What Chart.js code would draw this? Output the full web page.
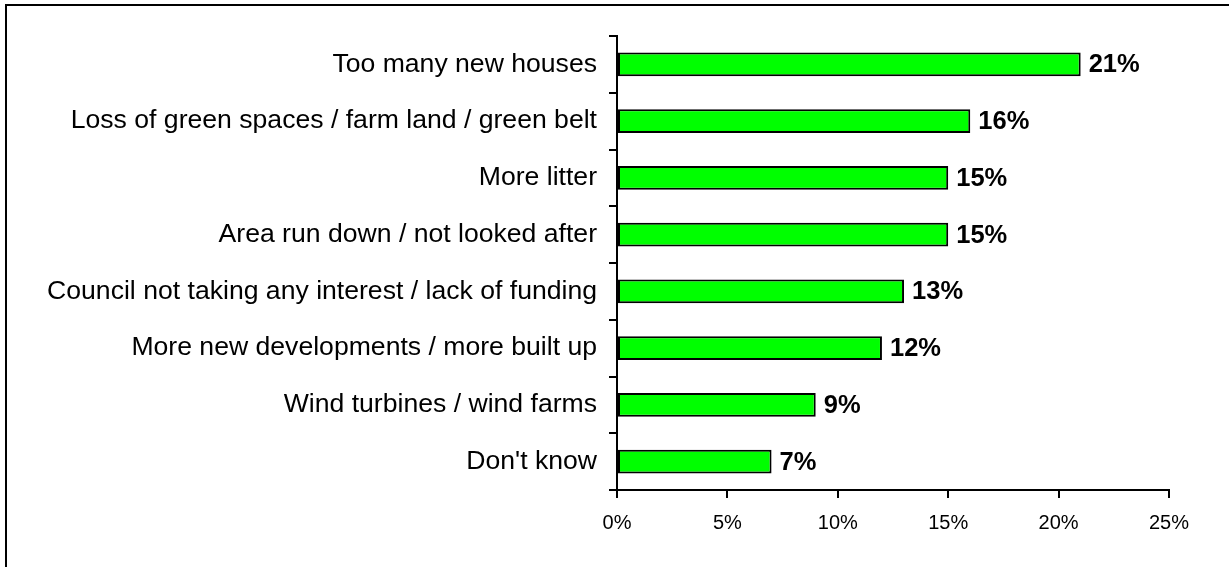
<!DOCTYPE html>
<html lang="en">
<head>
    <meta charset="UTF-8">
    <title>Concerns about the local area</title>
    <script src="https://cdn.jsdelivr.net/npm/chart.js"></script>
    <style>
        * {
            margin: 0;
            padding: 0;
            box-sizing: border-box;
        }

        body {
            background: #fff;
            width: 1229px;
            height: 567px;
            overflow: hidden;
            position: relative;
        }

        .frame {
            position: absolute;
            left: 5px;
            top: 4px;
            width: 1300px;
            height: 700px;
            border-left: 2px solid #000;
            border-top: 2px solid #000;
        }

        .chart-container {
            position: absolute;
            left: 0;
            top: 0;
            width: 1229px;
            height: 567px;
        }
    </style>
</head>
<body>
    <div class="frame"></div>
    <div class="chart-container">
        <canvas id="concernsChart"></canvas>
    </div>

    <script>
        const categories = [
            'Too many new houses',
            'Loss of green spaces / farm land / green belt',
            'More litter',
            'Area run down / not looked after',
            'Council not taking any interest / lack of funding',
            'More new developments / more built up',
            'Wind turbines / wind farms',
            "Don't know"
        ];
        const percentages = [21, 16, 15, 15, 13, 12, 9, 7];
        const xTicks = [0, 5, 10, 15, 20, 25];

        // value labels at the end of each bar
        const valueLabels = {
            id: 'valueLabels',
            afterDatasetsDraw(chart) {
                const ctx = chart.ctx;
                const meta = chart.getDatasetMeta(0);
                ctx.save();
                ctx.font = 'bold 25.5px "Liberation Sans", Arial, sans-serif';
                ctx.fillStyle = '#000';
                ctx.textAlign = 'left';
                ctx.textBaseline = 'middle';
                meta.data.forEach((bar, i) => {
                    ctx.fillText(percentages[i] + '%', bar.x + 8, bar.y + 1);
                });
                ctx.restore();
            }
        };

        new Chart(document.getElementById('concernsChart'), {
            type: 'bar',
            data: {
                labels: categories,
                datasets: [{
                    data: percentages,
                    backgroundColor: '#00ff00',
                    borderColor: '#000',
                    borderWidth: 2,
                    borderSkipped: false,
                    categoryPercentage: 1,
                    barPercentage: 0.42
                }]
            },
            options: {
                indexAxis: 'y',
                responsive: true,
                maintainAspectRatio: false,
                animation: false,
                layout: {
                    padding: { top: 36, right: 60, bottom: 0, left: 0 }
                },
                plugins: {
                    legend: { display: false },
                    tooltip: { enabled: false }
                },
                scales: {
                    x: {
                        min: 0,
                        max: 25,
                        afterBuildTicks(scale) {
                            scale.ticks = xTicks.map(v => ({ value: v }));
                        },
                        afterFit(scale) {
                            scale.height = 77;
                        },
                        border: { display: true, color: '#000', width: 2 },
                        grid: {
                            display: true,
                            drawOnChartArea: false,
                            drawTicks: true,
                            tickLength: 8,
                            color: '#000',
                            lineWidth: 2
                        },
                        ticks: {
                            padding: 13,
                            color: '#000',
                            maxRotation: 0,
                            font: { family: '"Liberation Sans", Arial, sans-serif', size: 20 },
                            callback: v => v + '%'
                        }
                    },
                    y: {
                        afterFit(scale) {
                            scale.width = 617;
                        },
                        border: { display: true, color: '#000', width: 2 },
                        grid: {
                            display: true,
                            offset: true,
                            drawOnChartArea: false,
                            drawTicks: true,
                            tickLength: 8,
                            color: '#000',
                            lineWidth: 2
                        },
                        ticks: {
                            padding: 12,
                            color: '#000',
                            autoSkip: false,
                            font: { family: '"Liberation Sans", Arial, sans-serif', size: 26.6 }
                        }
                    }
                }
            },
            plugins: [valueLabels]
        });
    </script>
</body>
</html>
